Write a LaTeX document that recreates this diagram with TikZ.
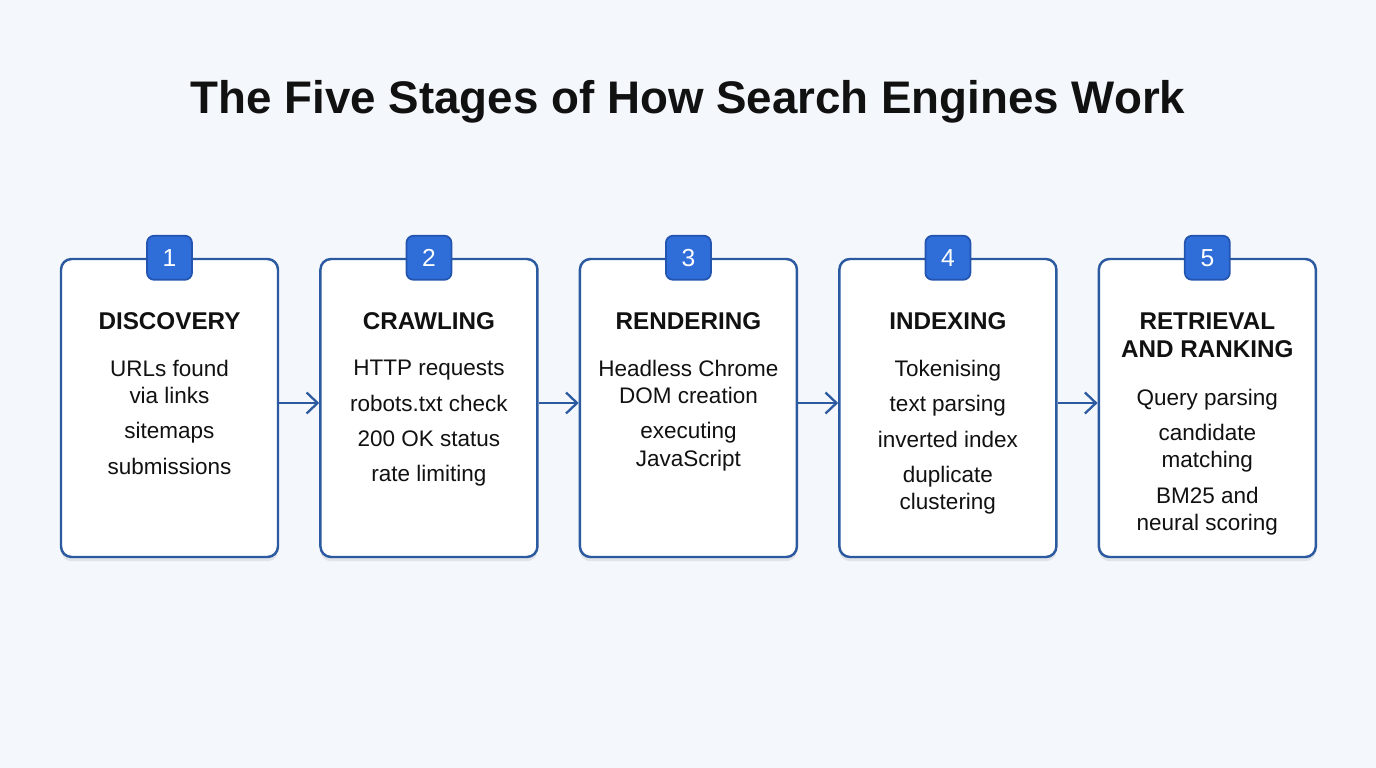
\documentclass[tikz,border=0pt]{standalone}
\usepackage{fontspec}
\setmainfont{Liberation Sans}
\usetikzlibrary{arrows.meta, positioning, calc, shadows}

\definecolor{pagebg}{HTML}{F4F7FB}
\definecolor{boxline}{HTML}{2C5AA0}
\definecolor{badgefill}{HTML}{2F6DD8}
\definecolor{badgeline}{HTML}{2355B0}
\definecolor{ink}{HTML}{111111}

\begin{document}
\begin{tikzpicture}[font=\fontsize{6.4}{7.7}\selectfont, align=center, text=ink,
    node distance=0.4cm,
    stage/.style={draw=boxline, line width=0.7pt, fill=white, rounded corners=3pt, minimum width=2.17cm, minimum height=2.98cm,
        drop shadow={shadow xshift=0pt, shadow yshift=-1.2pt, opacity=0.08, fill=black}},
    badge/.style={draw=badgeline, line width=0.5pt, fill=badgefill, rounded corners=2pt, minimum width=0.45cm, minimum height=0.44cm, inner sep=0pt, text=white, font=\fontsize{7}{8}\selectfont},
    head/.style={anchor=north, inner sep=0pt, font=\fontsize{6.9}{8}\selectfont\bfseries},
    body/.style={anchor=north, inner sep=0pt},
    arrow/.style={-{Straight Barb[length=1.1mm, width=2.1mm]}, line width=0.65pt, draw=boxline}
]
    \fill[pagebg] (0,0) rectangle (13.76,-7.68);
    \useasboundingbox (0,0) rectangle (13.76,-7.68);

    \node[anchor=base, inner sep=0pt, font=\fontsize{13}{15}\selectfont\bfseries] (title) at (6.88,-1.13) {The Five Stages of How Search Engines Work};

    % the five stage boxes
    \node[stage] (b1) at (1.695,-4.08) {};
    \node[stage, right=of b1] (b2) {};
    \node[stage, right=of b2] (b3) {};
    \node[stage, right=of b3] (b4) {};
    \node[stage, right=of b4] (b5) {};

    \node[badge] (n1) at (b1.north) {1};
    \node[badge] (n2) at (b2.north) {2};
    \node[badge] (n3) at (b3.north) {3};
    \node[badge] (n4) at (b4.north) {4};
    \node[badge] (n5) at (b5.north) {5};

    \node[head] (h1) at ($(b1.north)+(0,-0.54)$) {DISCOVERY};
    \node[head] (h2) at ($(b2.north)+(0,-0.54)$) {CRAWLING};
    \node[head] (h3) at ($(b3.north)+(0,-0.54)$) {RENDERING};
    \node[head] (h4) at ($(b4.north)+(0,-0.54)$) {INDEXING};
    \node[head] (h5) at ($(b5.north)+(0,-0.54)$) {RETRIEVAL\\AND RANKING};

    \node[body] (t1) at ($(b1.north)+(0,-1.02)$) {URLs found\\via links\\[2.3pt]sitemaps\\[2.3pt]submissions};
    \node[body] (t2) at ($(b2.north)+(0,-1.02)$) {HTTP requests\\[2.3pt]robots.txt check\\[2.3pt]200 OK status\\[2.3pt]rate limiting};
    \node[body] (t3) at ($(b3.north)+(0,-1.02)$) {Headless Chrome\\DOM creation\\[2.3pt]executing\\JavaScript};
    \node[body] (t4) at ($(b4.north)+(0,-1.02)$) {Tokenising\\[2.3pt]text parsing\\[2.3pt]inverted index\\[2.3pt]duplicate\\clustering};
    \node[body] (t5) at ($(b5.north)+(0,-1.31)$) {Query parsing\\[2.3pt]candidate\\matching\\[2.3pt]BM25 and\\neural scoring};

    \draw[arrow] ([yshift=0.5mm]b1.east) -- ([yshift=0.5mm]b2.west);
    \draw[arrow] ([yshift=0.5mm]b2.east) -- ([yshift=0.5mm]b3.west);
    \draw[arrow] ([yshift=0.5mm]b3.east) -- ([yshift=0.5mm]b4.west);
    \draw[arrow] ([yshift=0.5mm]b4.east) -- ([yshift=0.5mm]b5.west);
\end{tikzpicture}
\end{document}
